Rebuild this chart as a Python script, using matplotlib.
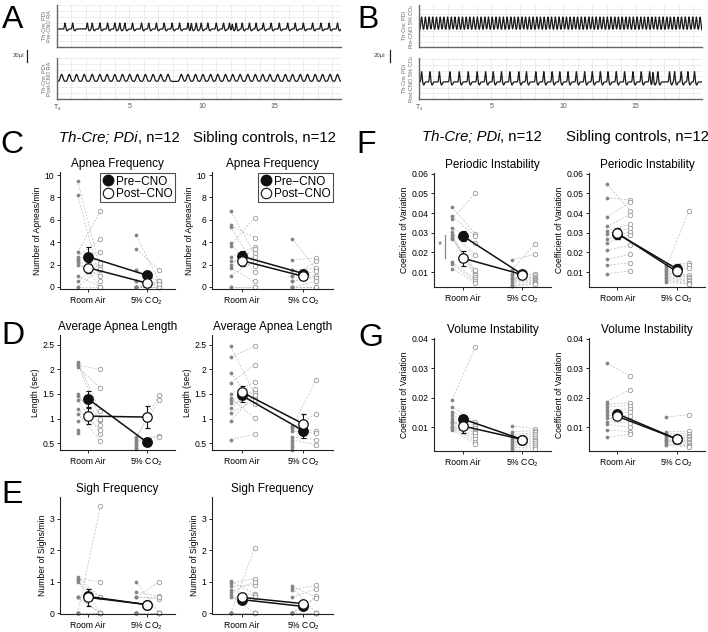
import numpy as np
import matplotlib
matplotlib.use("Agg")
import matplotlib.pyplot as plt
from matplotlib.lines import Line2D

plt.rcParams['font.family'] = ['Liberation Sans', 'DejaVu Sans']
plt.rcParams['mathtext.fontset'] = 'custom'
plt.rcParams['mathtext.rm'] = 'Liberation Sans'
plt.rcParams['mathtext.it'] = 'Liberation Sans:italic'

# ---- breath times (s) ----
a_pre_breaths = [0.55, 1.08, 2.09, 2.43, 2.96, 3.49, 3.99, 4.33, 4.68, 5.21, 5.83,
                 6.33, 6.86, 7.39, 7.94, 8.46, 9.04, 9.27, 9.61, 9.95, 10.41, 10.99,
                 11.49, 11.90, 12.09, 12.36, 12.78, 13.28, 13.74, 14.24, 14.77, 15.34,
                 15.92, 16.44, 17.00, 17.64, 18.21, 18.78, 19.36]
a_post_breaths = [0.32, 0.85, 1.35, 1.88, 2.43, 2.96, 3.46, 3.99, 4.52, 5.02, 5.55,
                  6.10, 6.63, 7.16, 7.66, 8.58, 9.04, 9.56, 10.07, 10.60, 11.10,
                  11.63, 12.13, 12.64, 13.17, 13.69, 14.20, 14.70, 15.23, 15.76,
                  16.26, 16.79, 17.29, 17.82, 18.33, 18.85, 19.36]
b_pre_breaths = [0.18, 0.44, 0.70, 0.95, 1.21, 1.47, 1.72, 1.98, 2.24, 2.49, 2.75,
                 3.01, 3.27, 3.52, 3.78, 4.04, 4.30, 4.56, 4.81, 5.07, 5.33, 5.58,
                 5.84, 6.10, 6.36, 6.61, 6.87, 7.13, 7.38, 7.64, 7.90, 8.16, 8.41,
                 8.67, 8.93, 9.18, 9.44, 9.70, 9.96, 10.21, 10.47, 10.73, 10.98,
                 11.24, 11.50, 11.76, 12.01, 12.27, 12.53, 12.78, 13.04, 13.30,
                 13.56, 13.81, 14.07, 14.33, 14.58, 14.84, 15.10, 15.36, 15.61,
                 15.87, 16.13, 16.38, 16.64, 16.90, 17.16, 17.41, 17.67, 17.93,
                 18.18, 18.44, 18.70, 18.96, 19.21, 19.47]
b_post_breaths = [0.18, 0.76, 1.41, 2.14, 2.79, 3.41, 4.03, 4.61, 5.14, 5.71, 6.29,
                  6.91, 7.44, 8.09, 8.64, 9.22, 9.75, 10.32, 10.90, 11.47, 12.00,
                  12.56, 13.09, 13.66, 14.24, 14.82, 15.39, 15.97, 16.20, 16.54,
                  17.35, 17.70, 18.16, 18.62, 19.08]
time_ticks = [0, 5, 10, 15]
time_labels = ['T$_s$', '5', '10', '15']

# ---- group data: individual animals ----
ap_th_pre_ra = [9.5, 8.2, 3.1, 2.7, 2.5, 2.2, 2.0, 1.0, 0.5, 0.0, 0.0, 2.4]
ap_th_post_ra = [1.5, 0.5, 6.8, 4.3, 3.1, 2.0, 1.0, 0.0, 2.1, 0.0, 1.6, 0.0]
ap_th_pre_co2 = [4.6, 3.4, 1.5, 1.5, 0.5, 0.5, 0.0, 0.0, 0.0, 0.0, 0.0, 0.0]
ap_th_post_co2 = [0.5, 1.5, 0.5, 0.5, 0.3, 0.0, 0.0, 0.0, 0.0, 0.0, 0.5, 0.3]
ap_sib_pre_ra = [6.8, 5.5, 5.4, 3.9, 3.7, 2.7, 2.3, 2.0, 1.7, 1.0, 0.0, 0.0]
ap_sib_post_ra = [3.0, 4.4, 1.9, 1.3, 6.2, 3.6, 2.7, 3.4, 0.5, 2.3, 0.0, 0.0]
ap_sib_pre_co2 = [4.3, 2.4, 1.5, 1.5, 1.0, 1.0, 0.5, 0.5, 0.0, 0.0, 0.0, 0.0]
ap_sib_post_co2 = [1.6, 2.6, 1.7, 0.9, 2.3, 1.4, 1.0, 0.8, 0.5, 0.0, 0.0, 0.0]

len_th_pre_ra = [2.16, 2.12, 2.08, 2.05, 1.49, 1.45, 1.38, 1.2, 1.1, 0.96, 0.76, 0.71]
len_th_post_ra = [1.15, 0.98, 2.0, 1.62, 0.86, 1.0, 0.69, 0.77, 0.55]
len_th_pre_co2 = [0.62, 0.6, 0.57, 0.54, 0.5, 0.47, 0.44, 0.41, 0.38]
len_th_post_co2 = [1.48, 1.37, 0.65, 0.63]
len_sib_pre_ra = [2.47, 2.25, 1.93, 1.72, 1.5, 1.42, 1.37, 1.31, 1.21, 1.11, 0.95, 0.57]
len_sib_post_ra = [1.5, 2.47, 1.3, 2.09, 1.74, 1.01, 1.54, 1.42, 1.6, 1.37, 1.48, 0.68]
len_sib_pre_co2 = [0.84, 0.82, 0.8, 0.74, 0.62, 0.57, 0.52, 0.47, 0.42, 0.37]
len_sib_post_co2 = [1.79, 1.1, 0.74, 0.7, 0.57, 0.46]

sigh_th_pre_ra = [1.15, 1.1, 1.05, 1.0, 0.5, 0.5, 0.5, 0.0, 0.0, 0.0, 0.0, 0.0]
sigh_th_post_ra = [0.5, 1.0, 0.0, 0.5, 0.0, 0.5, 0.0, 3.4, 0.0, 0.0, 0.0, 0.0]
sigh_th_pre_co2 = [1.0, 0.67, 0.5, 0.5, 0.5, 0.0, 0.0, 0.0, 0.0, 0.0, 0.0, 0.0]
sigh_th_post_co2 = [0.0, 0.53, 1.0, 0.46, 0.5, 0.0, 0.0, 0.0, 0.0, 0.0, 0.0, 0.0]
sigh_sib_pre_ra = [1.01, 0.95, 0.85, 0.74, 0.67, 0.56, 0.5, 0.0, 0.0, 0.0, 0.0, 0.0]
sigh_sib_post_ra = [0.62, 1.1, 0.9, 0.56, 1.0, 0.0, 0.5, 2.07, 0.0, 0.0, 0.0, 0.0]
sigh_sib_pre_co2 = [0.85, 0.8, 0.75, 0.5, 0.0, 0.0, 0.0, 0.0, 0.0, 0.0, 0.0, 0.0]
sigh_sib_post_co2 = [0.5, 0.0, 0.88, 0.78, 0.53, 0.48, 0.0, 0.0, 0.0, 0.0, 0.0, 0.0]

per_th_pre_ra = [0.043, 0.0385, 0.0368, 0.0325, 0.0303, 0.029, 0.028, 0.0275, 0.027, 0.0152, 0.014, 0.0118]
per_th_post_ra = [0.0296, 0.0283, 0.05, 0.025, 0.0185, 0.0097, 0.0085, 0.0075, 0.011, 0.0066, 0.0055, 0.0046]
per_th_pre_co2 = [0.0162, 0.0108, 0.009, 0.0086, 0.0072, 0.0068, 0.0063, 0.0056, 0.005, 0.004, 0.003, 0.003]
per_th_post_co2 = [0.019, 0.0245, 0.0088, 0.0085, 0.0075, 0.0071, 0.0065, 0.006, 0.0055, 0.005, 0.0045, 0.0038]
per_sib_pre_ra = [0.0549, 0.0477, 0.038, 0.0333, 0.0311, 0.0294, 0.0266, 0.0249, 0.021, 0.0164, 0.0134, 0.0092]
per_sib_post_ra = [0.0413, 0.0468, 0.0455, 0.0392, 0.0342, 0.0325, 0.0305, 0.0291, 0.0237, 0.019, 0.0147, 0.0105]
per_sib_pre_co2 = [0.0138, 0.013, 0.012, 0.011, 0.0105, 0.0098, 0.009, 0.0083, 0.0075, 0.0068, 0.006, 0.005]
per_sib_post_co2 = [0.0145, 0.0136, 0.0413, 0.0122, 0.0084, 0.0076, 0.0072, 0.006, 0.0052, 0.0045, 0.004, 0.0037]

vol_th_pre_ra = [0.0193, 0.017, 0.0153, 0.0142, 0.0131, 0.0122, 0.0118, 0.0114, 0.0105, 0.01, 0.0097, 0.0091]
vol_th_post_ra = [0.0371, 0.0118, 0.0112, 0.0105, 0.0098, 0.0091, 0.0085, 0.008, 0.007, 0.006, 0.0051, 0.0042]
vol_th_pre_co2 = [0.0105, 0.0085, 0.0074, 0.0066, 0.006, 0.0055, 0.005, 0.0045, 0.004, 0.0035, 0.003, 0.0024]
vol_th_post_co2 = [0.0094, 0.0088, 0.0082, 0.0077, 0.007, 0.0064, 0.0058, 0.0052, 0.0046, 0.004, 0.0033, 0.0026]
vol_sib_pre_ra = [0.0317, 0.0187, 0.0178, 0.017, 0.0159, 0.0151, 0.0142, 0.0131, 0.0119, 0.011, 0.0091, 0.0065]
vol_sib_post_ra = [0.0274, 0.0227, 0.0182, 0.0173, 0.0162, 0.0151, 0.0139, 0.0125, 0.0114, 0.0099, 0.0085, 0.0076]
vol_sib_pre_co2 = [0.0134, 0.0085, 0.008, 0.0075, 0.007, 0.0065, 0.006, 0.0056, 0.0052, 0.0048, 0.0044, 0.004]
vol_sib_post_co2 = [0.0143, 0.0086, 0.0078, 0.007, 0.0065, 0.006, 0.0055, 0.005, 0.0045, 0.004, 0.0036, 0.0032]

# ---- group means +/- SEM (Room Air, 5% CO2) ----
ap_th_mean_pre, ap_th_sem_pre = [2.7, 1.05], [0.85, 0.25]
ap_th_mean_post, ap_th_sem_post = [1.72, 0.35], [0.5, 0.15]
ap_sib_mean_pre, ap_sib_sem_pre = [2.75, 1.2], [0.5, 0.35]
ap_sib_mean_post, ap_sib_sem_post = [2.36, 0.95], [0.45, 0.3]
len_th_mean_pre, len_th_sem_pre = [1.4, 0.52], [0.17, 0.02]
len_th_mean_post, len_th_sem_post = [1.05, 1.03], [0.17, 0.22]
len_sib_mean_pre, len_sib_sem_pre = [1.47, 0.75], [0.13, 0.15]
len_sib_mean_post, len_sib_sem_post = [1.54, 0.89], [0.12, 0.2]
sigh_th_mean_pre, sigh_th_sem_pre = [0.53, 0.27], [0.12, 0.09]
sigh_th_mean_post, sigh_th_sem_post = [0.5, 0.27], [0.27, 0.1]
sigh_sib_mean_pre, sigh_sib_sem_pre = [0.43, 0.21], [0.1, 0.08]
sigh_sib_mean_post, sigh_sib_sem_post = [0.5, 0.3], [0.15, 0.08]
per_th_mean_pre, per_th_sem_pre = [0.0284, 0.0088], [0.0025, 0.0012]
per_th_mean_post, per_th_sem_post = [0.0171, 0.0087], [0.0038, 0.0012]
per_sib_mean_pre, per_sib_sem_pre = [0.0295, 0.0117], [0.0025, 0.0025]
per_sib_mean_post, per_sib_sem_post = [0.0297, 0.0103], [0.0027, 0.0022]
vol_th_mean_pre, vol_th_sem_pre = [0.0128, 0.0058], [0.0009, 0.0006]
vol_th_mean_post, vol_th_sem_post = [0.0104, 0.0058], [0.0025, 0.0006]
vol_sib_mean_pre, vol_sib_sem_pre = [0.0145, 0.006], [0.001, 0.0005]
vol_sib_mean_post, vol_sib_sem_post = [0.0137, 0.006], [0.001, 0.0005]

conditions = [1, 2]
condition_labels = ['Room Air', '5% CO$_2$']

W, H = 708, 632
fig = plt.figure(figsize=(W / 100, H / 100), dpi=100)


def px_axes(x0, y0, x1, y1):
    return fig.add_axes([x0 / W, 1 - y1 / H, (x1 - x0) / W, (y1 - y0) / H])


def fig_text(x, y, s, **kw):
    return fig.text(x / W, 1 - y / H, s, **kw)


# ---- breathing traces ----
t = np.arange(0, 19.6, 0.004)


def spiky(times, amp):
    y = np.zeros_like(t)
    for ti in times:
        dt = t - ti
        y += amp * (np.exp(-(dt / 0.05) ** 2) - 0.3 * np.exp(-((dt - 0.15) / 0.07) ** 2))
    return y


def rounded(times, amp, width):
    y = np.zeros_like(t)
    for ti in times:
        y += amp * np.exp(-((t - ti) / width) ** 2)
    return y


def trace_axes(x0, y0, x1, y1, y, ylim, label, bottom):
    ax = px_axes(x0, y0, x1, y1)
    ax.plot(t, y, color='#1a1a1a', lw=0.9)
    ax.set_xlim(0, 19.6)
    ax.set_ylim(ylim)
    ax.set_xticks(time_ticks)
    ax.set_xticks(np.arange(0, 20, 1), minor=True)
    ax.set_yticks(np.arange(-30, 50, 10))
    ax.grid(True, which='both', color='#e6e6e6', lw=0.5)
    ax.set_axisbelow(True)
    ax.tick_params(which='both', length=0, labelleft=False, labelsize=5,
                   labelcolor='#555', pad=3)
    if bottom:
        ax.set_xticklabels(time_labels)
    else:
        ax.set_xticklabels([])
    for s in ('top', 'right'):
        ax.spines[s].set_visible(False)
    for s in ('left', 'bottom'):
        ax.spines[s].set_color('#666')
        ax.spines[s].set_linewidth(1.0)
    ax.text(-0.036, 0.5, label, transform=ax.transAxes, rotation=90, ha='center',
            va='center', fontsize=4, color='#666', linespacing=1.1)
    return ax


trace_axes(57, 5, 341, 47, spiky(a_pre_breaths, 10), (-30, 40),
           'Th-Cre; PDi\nPre-CNO RA', False)
trace_axes(57, 58, 341, 99, rounded(a_post_breaths, 12, 0.12), (-28, 40),
           'Th-Cre; PDi\nPost-CNO RA', True)
trace_axes(419, 5, 702, 47, rounded(b_pre_breaths, 25, 0.075), (-23, 47),
           'Th-Cre; PDi\nPre-CNO 5% CO$_2$', False)
trace_axes(419, 58, 702, 99, spiky(b_post_breaths, 18), (-27, 42),
           'Th-Cre; PDi\nPost-CNO 5% CO$_2$', True)

# scale bars (20 ul)
for xt, xl in ((18, 27), (379, 390)):
    fig.add_artist(Line2D([xl / W, xl / W], [1 - 50 / H, 1 - 62 / H], color='#222', lw=0.9))
    fig_text(xt, 56, '20µl', fontsize=4.3, ha='center', va='center', color='#444')

# ---- group panels ----
PRE_DX, POST_DX = -0.18, 0.21


def group_panel(rect, pre_ra, post_ra, pre_co2, post_co2, mean_pre, sem_pre,
                mean_post, sem_post, ylim, yticks, yticklabels, ylabel, title,
                legend=False):
    ax = px_axes(*rect)
    for xc, pre, post in ((1, pre_ra, post_ra), (2, pre_co2, post_co2)):
        for a, b in zip(pre, post):
            ax.plot([xc + PRE_DX, xc + POST_DX], [a, b], ls=(0, (3, 2)),
                    color='#bdbdbd', lw=0.5, zorder=1)
        ax.plot(np.full(len(pre), xc + PRE_DX), pre, 'o', ms=2.7, color='#858585',
                mec='none', zorder=2, clip_on=False)
        ax.plot(np.full(len(post), xc + POST_DX), post, 'o', ms=3.2, mfc='white',
                mec='#9a9a9a', mew=0.6, zorder=2, clip_on=False)
    ax.errorbar(conditions, mean_pre, yerr=sem_pre, color='#111', lw=1.1,
                elinewidth=0.8, capsize=1.8, capthick=0.8, marker='o', ms=6.8,
                mfc='#111', mec='#111', zorder=4)
    ax.errorbar(conditions, mean_post, yerr=sem_post, color='#111', lw=1.1,
                elinewidth=0.8, capsize=1.8, capthick=0.8, marker='o', ms=6.8,
                mfc='white', mec='#111', mew=0.9, zorder=5)
    ax.set_xlim(0.52, 2.48)
    ax.set_ylim(ylim)
    ax.set_xticks(conditions)
    ax.set_xticklabels(condition_labels)
    ax.set_yticks(yticks)
    ax.set_yticklabels(yticklabels)
    ax.tick_params(direction='out', length=2, width=0.6, labelsize=6.2, pad=2)
    ax.tick_params(axis='x', pad=3)
    for s in ('top', 'right'):
        ax.spines[s].set_visible(False)
    for s in ('left', 'bottom'):
        ax.spines[s].set_linewidth(0.8)
        ax.spines[s].set_color('#222')
    ax.set_ylabel(ylabel, fontsize=6.2, labelpad=2)
    ax.set_title(title, fontsize=8.5, pad=3.5)
    if legend:
        handles = [Line2D([], [], ls='none', marker='o', ms=7.5, mfc='#111', mec='#111'),
                   Line2D([], [], ls='none', marker='o', ms=7.5, mfc='white', mec='#111', mew=0.8)]
        leg = ax.legend(handles, ['Pre\u2212CNO', 'Post\u2212CNO'], loc='upper right',
                        bbox_to_anchor=(1.0, 0.99), fontsize=8.5, frameon=True,
                        fancybox=False, edgecolor='#222', borderpad=0.2,
                        handletextpad=0.15, handlelength=1.0, labelspacing=0.05,
                        borderaxespad=0.0)
        leg.get_frame().set_linewidth(0.8)
    return ax


ap_ticks = [0, 2, 4, 6, 8, 10]
len_ticks = [0.5, 1, 1.5, 2, 2.5]
sigh_ticks = [0, 1, 2, 3]
per_ticks = [0.01, 0.02, 0.03, 0.04, 0.05, 0.06]
vol_ticks = [0.01, 0.02, 0.03, 0.04]

group_panel((60, 172, 175, 289), ap_th_pre_ra, ap_th_post_ra, ap_th_pre_co2, ap_th_post_co2,
            ap_th_mean_pre, ap_th_sem_pre, ap_th_mean_post, ap_th_sem_post,
            (-0.18, 10.27), ap_ticks, [str(v) for v in ap_ticks],
            'Number of Apneas/min', 'Apnea Frequency', legend=True)
group_panel((212, 172, 333, 289), ap_sib_pre_ra, ap_sib_post_ra, ap_sib_pre_co2, ap_sib_post_co2,
            ap_sib_mean_pre, ap_sib_sem_pre, ap_sib_mean_post, ap_sib_sem_post,
            (-0.18, 10.27), ap_ticks, [str(v) for v in ap_ticks],
            'Number of Apneas/min', 'Apnea Frequency', legend=True)
group_panel((60, 335, 175, 450), len_th_pre_ra, len_th_post_ra, len_th_pre_co2, len_th_post_co2,
            len_th_mean_pre, len_th_sem_pre, len_th_mean_post, len_th_sem_post,
            (0.36, 2.7), len_ticks, ['0.5', '1', '1.5', '2', '2.5'],
            'Length (sec)', 'Average Apnea Length')
group_panel((212, 335, 333, 450), len_sib_pre_ra, len_sib_post_ra, len_sib_pre_co2, len_sib_post_co2,
            len_sib_mean_pre, len_sib_sem_pre, len_sib_mean_post, len_sib_sem_post,
            (0.36, 2.7), len_ticks, ['0.5', '1', '1.5', '2', '2.5'],
            'Length (sec)', 'Average Apnea Length')
group_panel((60, 497, 175, 614), sigh_th_pre_ra, sigh_th_post_ra, sigh_th_pre_co2, sigh_th_post_co2,
            sigh_th_mean_pre, sigh_th_sem_pre, sigh_th_mean_post, sigh_th_sem_post,
            (-0.03, 3.7), sigh_ticks, [str(v) for v in sigh_ticks],
            'Number of Sighs/min', 'Sigh Frequency')
group_panel((212, 497, 333, 614), sigh_sib_pre_ra, sigh_sib_post_ra, sigh_sib_pre_co2, sigh_sib_post_co2,
            sigh_sib_mean_pre, sigh_sib_sem_pre, sigh_sib_mean_post, sigh_sib_sem_post,
            (-0.03, 3.7), sigh_ticks, [str(v) for v in sigh_ticks],
            'Number of Sighs/min', 'Sigh Frequency')
ax_f = group_panel((434, 173, 551, 287), per_th_pre_ra, per_th_post_ra, per_th_pre_co2, per_th_post_co2,
                   per_th_mean_pre, per_th_sem_pre, per_th_mean_post, per_th_sem_post,
                   (0.0024, 0.0604), per_ticks, ['%.2f' % v for v in per_ticks],
                   'Coefficient of Variation', 'Periodic Instability')
group_panel((589, 173, 705, 287), per_sib_pre_ra, per_sib_post_ra, per_sib_pre_co2, per_sib_post_co2,
            per_sib_mean_pre, per_sib_sem_pre, per_sib_mean_post, per_sib_sem_post,
            (0.0024, 0.0604), per_ticks, ['%.2f' % v for v in per_ticks],
            'Coefficient of Variation', 'Periodic Instability')
group_panel((434, 338, 551, 451), vol_th_pre_ra, vol_th_post_ra, vol_th_pre_co2, vol_th_post_co2,
            vol_th_mean_pre, vol_th_sem_pre, vol_th_mean_post, vol_th_sem_post,
            (0.0019, 0.0403), vol_ticks, ['%.2f' % v for v in vol_ticks],
            'Coefficient of Variation', 'Volume Instability')
group_panel((589, 338, 705, 451), vol_sib_pre_ra, vol_sib_post_ra, vol_sib_pre_co2, vol_sib_post_co2,
            vol_sib_mean_pre, vol_sib_sem_pre, vol_sib_mean_post, vol_sib_sem_post,
            (0.0019, 0.0403), vol_ticks, ['%.2f' % v for v in vol_ticks],
            'Coefficient of Variation', 'Volume Instability')

# significance marker, periodic instability room air
ax_f.plot([0.70, 0.70], [per_th_mean_post[0], per_th_mean_pre[0] + 0.0006],
          color='#888', lw=0.9, zorder=3)
ax_f.text(0.62, 0.0235, '*', color='#666', fontsize=7.5, ha='center', va='center')

# ---- column headers ----
for x, y in ((59, 138), (422, 137)):
    t1 = fig_text(x, y, 'Th-Cre; PDi', fontsize=10.7, style='italic', va='center')
    fig.axes[-1].annotate(', n=12', xy=(1, 0), xycoords=t1, va='bottom', ha='left',
                          fontsize=10.7, annotation_clip=False)
fig_text(193, 138, 'Sibling controls, n=12', fontsize=10.7, va='center')
fig_text(566, 137, 'Sibling controls, n=12', fontsize=10.7, va='center')

# ---- panel letters ----
for letter, x, y in (('A', 2, 5), ('B', 357, 5), ('C', 0, 130), ('D', 1, 321),
                     ('E', 1, 480), ('F', 356, 130), ('G', 358, 323)):
    fig_text(x, y, letter, fontsize=23, va='top', ha='left')

fig.savefig('out.png', dpi=100)
